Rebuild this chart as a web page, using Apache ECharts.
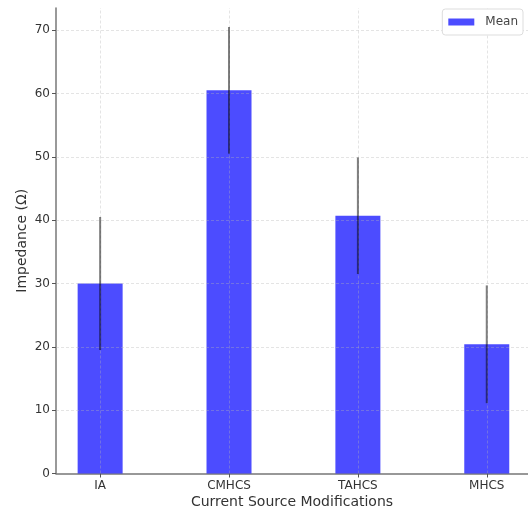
<!DOCTYPE html>
<html>
<head>
<meta charset="utf-8">
<script src="https://cdn.jsdelivr.net/npm/echarts@6/dist/echarts.min.js"></script>
<style>html,body{margin:0;padding:0;background:#fff;}#c{width:528px;height:516px;}</style>
</head>
<body>
<div id="c"></div>
<script>
const categories = ['IA', 'CMHCS', 'TAHCS', 'MHCS'];
const means = [30.0, 60.5, 40.7, 20.4];
const errors = [10.5, 10.0, 9.2, 9.3];
const yTicks = [0, 10, 20, 30, 40, 50, 60, 70];

const font = 'DejaVu Sans';
const textColor = '#333';
const gridColor = 'rgba(180,180,180,0.45)';
const chart = echarts.init(document.getElementById('c'));
const barData = means.map((m, i) => [i, m]);
const errData = means.map((m, i) => [i, m - errors[i], m + errors[i]]);
const catIdx = categories.map((c, i) => i);

chart.setOption({
  animation: false,
  textStyle: { fontFamily: font },
  grid: { left: 56, right: 0, top: 8, bottom: 42.5 },
  legend: {
    data: ['Mean'],
    right: 5, top: 9,
    icon: 'rect', itemWidth: 26, itemHeight: 7, itemGap: 6,
    padding: [7, 5, 7, 6],
    backgroundColor: '#fff', borderColor: '#ddd', borderWidth: 1, borderRadius: 3,
    textStyle: { fontFamily: font, fontSize: 12, color: '#444', padding: [0, 0, 0, 6] }
  },
  xAxis: {
    type: 'value', min: -0.3425, max: 3.32,
    name: 'Current Source Modifications', nameLocation: 'middle', nameGap: 22, nameMoveOverlap: false,
    nameTextStyle: { fontFamily: font, fontSize: 14, color: textColor, verticalAlign: 'top' },
    axisLine: { show: true, onZero: false, lineStyle: { color: '#777', width: 1.5 } },
    axisTick: { show: true, customValues: catIdx, length: 4, lineStyle: { color: '#555' } },
    axisLabel: { customValues: catIdx, formatter: v => categories[Math.round(v)] || '', fontFamily: font, fontSize: 12, color: textColor, margin: 6 },
    splitLine: { show: false }
  },
  yAxis: {
    type: 'value', min: 0, max: 73.5, interval: 10,
    name: 'Impedance (Ω)', nameLocation: 'middle', nameGap: 27, nameMoveOverlap: false,
    nameTextStyle: { fontFamily: font, fontSize: 14, color: textColor },
    axisLine: { show: true, onZero: false, lineStyle: { color: '#777', width: 1.5 } },
    axisTick: { show: true, customValues: yTicks, length: 4, lineStyle: { color: '#555' } },
    axisLabel: { customValues: yTicks, fontFamily: font, fontSize: 12, color: textColor, margin: 6 },
    splitLine: { show: false }
  },
  series: [
    {
      name: 'Mean', type: 'bar', data: barData, barWidth: 45, z: 2,
      itemStyle: { color: 'rgba(0,0,255,0.7)' }
    },
    {
      type: 'line', data: [], silent: true, z: 3,
      markLine: {
        silent: true, symbol: 'none', label: { show: false }, z: 3,
        lineStyle: { color: gridColor, type: [3, 2], width: 0.8 },
        data: catIdx.map(i => ({ xAxis: i })).concat(yTicks.slice(1).map(v => ({ yAxis: v })))
      }
    },
    {
      type: 'custom', data: errData, z: 10, silent: true,
      encode: { x: 0, y: [1, 2] },
      renderItem: (params, api) => {
        const x = api.value(0);
        const p1 = api.coord([x, api.value(1)]);
        const p2 = api.coord([x, api.value(2)]);
        return { type: 'line', shape: { x1: p1[0], y1: p1[1], x2: p2[0], y2: p2[1] },
          style: { stroke: 'rgba(0,0,0,0.5)', lineWidth: 2 } };
      }
    }
  ]
});
</script>
</body>
</html>
